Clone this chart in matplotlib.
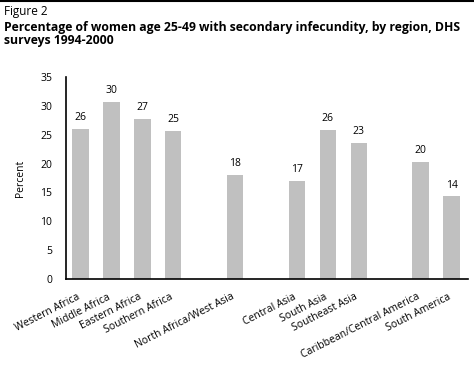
import matplotlib
matplotlib.use("Agg")
import matplotlib.pyplot as plt
import matplotlib.transforms as mtransforms
from matplotlib.lines import Line2D

categories = ["Western Africa", "Middle Africa", "Eastern Africa", "Southern Africa",
              "North Africa/West Asia", "Central Asia", "South Asia", "Southeast Asia",
              "Caribbean/Central America", "South America"]
values = [26.0, 30.7, 27.7, 25.6, 18.0, 17.0, 25.8, 23.6, 20.3, 14.3]
labels = ["26", "30", "27", "25", "18", "17", "26", "23", "20", "14"]
slots = [0, 1, 2, 3, 5, 7, 8, 9, 11, 12]
yticks = [0, 5, 10, 15, 20, 25, 30, 35]

plt.rcParams['font.family'] = ['Open Sans', 'DejaVu Sans']

fig = plt.figure(figsize=(4.74, 3.70), dpi=100)
W, H = 474, 370
ax = fig.add_axes([66 / W, 1 - 279 / H, (468 - 66) / W, (279 - 77) / H])

ax.bar(slots, values, width=0.53, color="#c0c0c0", zorder=2)
for x, v, t in zip(slots, values, labels):
    ax.text(x, v + 1.0, t, ha="center", va="bottom", fontsize=7.5)

ax.set_ylim(0, 35)
ax.set_xlim(-0.47, 12.53)
ax.set_yticks(yticks)
ax.set_yticklabels([str(t) for t in yticks], fontsize=7.5)
ax.tick_params(axis="y", length=0, pad=10)
ax.set_xticks(slots)
ax.set_xticklabels(categories, rotation=27, ha="right", rotation_mode="anchor", fontsize=7.5)
ax.tick_params(axis="x", length=0, pad=9)
offset = mtransforms.ScaledTranslation(-4 / 100, 0, fig.dpi_scale_trans)
for lbl in ax.get_xticklabels():
    lbl.set_transform(lbl.get_transform() + offset)
for s in ["top", "right"]:
    ax.spines[s].set_visible(False)
for s in ["left", "bottom"]:
    ax.spines[s].set_linewidth(1.2)
ax.set_ylabel("Percent", fontsize=7.5, labelpad=10)

fig.add_artist(Line2D([0, 1], [1 - 1 / H, 1 - 1 / H], color="black", linewidth=1.5,
                      transform=fig.transFigure))
fig.text(4 / W, 1 - 11.5 / H, "Figure 2", fontsize=8.5, va="center", ha="left")
line1 = "Percentage of women age 25-49 with secondary infecundity, by region, DHS"
line2 = "surveys 1994-2000"
t1 = fig.text(4 / W, 1 - 27 / H, line1, fontsize=8.5, fontweight="bold", va="center", ha="left")
t2 = fig.text(4 / W, 1 - 40.5 / H, line2, fontsize=8.5, fontweight="bold", va="center", ha="left")

# fit the long title line to the width it occupies in the reference
r = fig.canvas.get_renderer()
w = t1.get_window_extent(r).width
fs = 8.5 * 455 / w
t1.set_fontsize(fs)
t2.set_fontsize(fs)

fig.savefig("out.png", dpi=100)
